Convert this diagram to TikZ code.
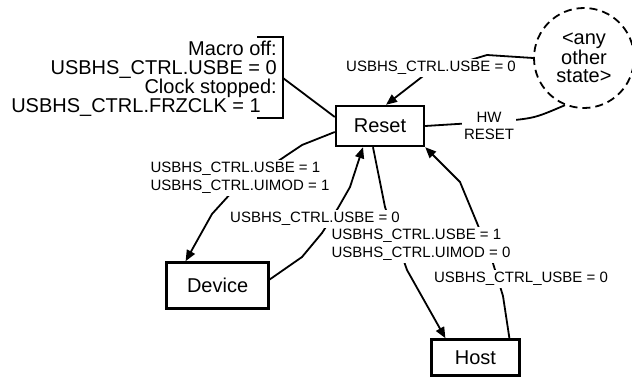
\documentclass[tikz,border=0pt]{standalone}
\usepackage{fontspec}
\setmainfont{Liberation Sans}
\usetikzlibrary{positioning,arrows.meta}

\begin{document}
\begin{tikzpicture}[
    x=1pt, y=-1pt,
    state/.style={draw, line width=2.4pt, align=center, inner sep=0pt, font=\fontsize{20}{19}\selectfont},
    anystate/.style={draw, circle, line width=1.8pt, dash pattern=on 8pt off 5pt, align=center, inner sep=0pt, minimum size=100pt, font=\fontsize{20}{18.5}\selectfont},
    lbl/.style={fill=white, inner sep=2pt, align=left, font=\fontsize{15}{18}\selectfont},
    line/.style={line width=1.8pt},
    arr/.style={line, -{Triangle[length=11pt,width=9pt]}}
]
\useasboundingbox (0,0) rectangle (632,377);

\node[state, minimum width=88pt, minimum height=40pt] (reset) at (380,126) {Reset};
\node[state, minimum width=102pt, minimum height=46pt, below left=114pt and 65pt of reset] (device) {Device};
\node[state, minimum width=88pt, minimum height=36pt, below right=191pt and 5pt of reset] (host) {Host};
\node[anystate] (any) at (584,58) {<any\\other\\state>};

% macro off / clock stopped note
\node[font=\fontsize{20}{19}\selectfont, align=right, anchor=east, inner sep=0pt] (macro) at (277,79)
  {Macro off:\\USBHS\_CTRL.USBE = 0\hspace*{17pt}\\Clock stopped:\\USBHS\_CTRL.FRZCLK = 1\hspace*{16pt}};
\draw[line] (257,37) -- (283,37) -- (283,118) -- (257,118);
\coordinate (brk) at (283,78);
\draw[line] (brk) -- ([yshift=9pt]reset.west);

% transitions
\draw[arr] (any.west) -- (487,55) -- (427,73) -- ([xshift=6pt]reset.north);
\draw[line] (any.248) .. controls (535,118) .. (505,121) -- (reset.east);
\draw[arr] ([yshift=-6pt]reset.west) -- (302,145) -- (232,192) -- (212,214) -- ([xshift=-32pt]device.north);
\draw[arr] ([yshift=6pt]device.east) -- (302,257) -- (322,233) -- (338,208) -- (350,187) -- ([xshift=-17pt]reset.south);
\draw[arr] ([xshift=-7pt]reset.south) -- (385,207) -- (407,270) -- ([xshift=-30pt]host.north);
\draw[arr] ([xshift=34pt]host.north) -- (503,296) -- (492,260) -- (477,223) -- (460,182) -- (reset.south east);

% labels
\node[lbl, align=center] (usbeoff) at (431,68) {USBHS\_CTRL.USBE = 0};
\node[lbl, align=center, font=\fontsize{15}{17}\selectfont] (hwreset) at (489,126) {HW\\RESET};
\node[lbl] (todevice) at (240,178) {USBHS\_CTRL.USBE = 1\\USBHS\_CTRL.UIMOD = 1};
\node[lbl] (tohost) at (421,245) {USBHS\_CTRL.USBE = 1\\USBHS\_CTRL.UIMOD = 0};
\node[lbl] (hostoff) at (521,279) {USBHS\_CTRL\_USBE = 0};
\node[lbl] (deviceoff) at (315,219) {USBHS\_CTRL.USBE = 0};
\end{tikzpicture}
\end{document}
